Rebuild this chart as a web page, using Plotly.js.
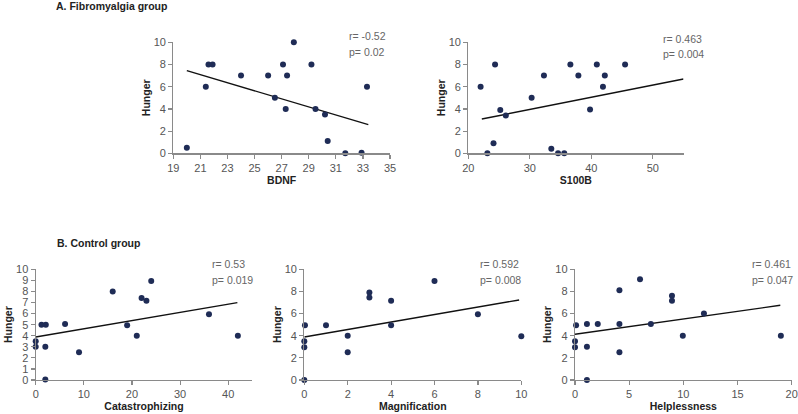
<!DOCTYPE html>
<html><head><meta charset="utf-8">
<script src="https://cdn.plot.ly/plotly-3.0.1.min.js"></script>
<style>html,body{margin:0;padding:0;background:#fff}#chart{width:798px;height:414px}</style>
</head><body><div id="chart"></div>
<script>
// Panel A1: BDNF vs Hunger (Fibromyalgia group)
const bdnfX      = [20.0, 21.4, 21.6, 21.9, 24.0, 26.0, 26.5, 27.1, 27.3, 27.4, 27.9, 29.2, 29.5, 30.2, 30.4, 31.7, 32.9, 33.3];
const bdnfHunger = [0.5, 6, 8, 8, 7, 7, 5, 8, 4, 7, 10, 8, 4, 3.5, 1.1, 0, 0.05, 6];
const bdnfFitX = [20.0, 33.4];
const bdnfFitY = [7.45, 2.58];

// Panel A2: S100B vs Hunger
const s100bX      = [22.0, 23.1, 24.35, 24.1, 25.2, 26.1, 30.3, 32.3, 33.5, 34.6, 35.6, 36.6, 37.9, 39.8, 40.9, 41.9, 42.2, 45.5];
const s100bHunger = [6, 0, 8, 0.9, 3.9, 3.4, 5, 7, 0.4, 0, 0, 8, 7, 3.95, 8, 6, 7, 8];
const s100bFitX = [22.2, 55];
const s100bFitY = [3.09, 6.69];

// Panel B1: Catastrophizing vs Hunger (Control group)
const catX      = [0, 0, 1.2, 2.1, 2, 2, 6.1, 9, 16, 19, 21, 22, 23, 24, 36, 42];
const catHunger = [3.5, 3, 5, 5, 3, 0.05, 5.05, 2.5, 8, 4.95, 4, 7.4, 7.15, 8.95, 5.95, 4];
const catFitX = [0, 41.9];
const catFitY = [3.89, 6.99];

// Panel B2: Magnification vs Hunger
const magX      = [0.03, 0, 0, 0, 1, 2, 2, 3, 3, 4, 4, 6, 8, 10];
const magHunger = [4.95, 3.5, 2.95, 0, 4.95, 4, 2.5, 7.9, 7.45, 7.15, 4.95, 8.95, 5.95, 3.95];
const magFitX = [0, 9.9];
const magFitY = [3.89, 7.23];

// Panel B3: Helplessness vs Hunger
const helpX      = [0.1, 0, 0, 1.1, 1.1, 1.1, 2.1, 4.1, 4.1, 4.1, 6.0, 7.0, 8.95, 8.95, 9.95, 11.9, 19.0];
const helpHunger = [4.95, 3.5, 2.95, 5.05, 3, 0, 5.05, 8.1, 5.05, 2.5, 9.1, 5.05, 7.6, 7.15, 4, 6, 4];
const helpFitX = [0, 18.95];
const helpFitY = [4.13, 6.75];

const xTitles = ['BDNF', 'S100B', 'Catastrophizing', 'Magnification', 'Helplessness'];
const yTitle = 'Hunger';
const rLabels = ['r= -0.52', 'r= 0.463', 'r= 0.53', 'r= 0.592', 'r= 0.461'];
const pLabels = ['p= 0.02', 'p= 0.004', 'p= 0.019', 'p= 0.008', 'p= 0.047'];
const sectionTitles = ['A. Fibromyalgia group', 'B. Control group'];

const W = 798, H = 414;
const dotColor = '#1f2c56';
const axisColor = '#8a8a8a';
const fam = '"Liberation Sans Narrow", "Liberation Sans", Arial, sans-serif';
const tickFont = {family: fam, size: 11, color: '#555'};
const boldFont = {family: fam, size: 10.5, color: '#222', weight: 'bold'};
const noteFont = {family: fam, size: 10.5, color: '#666'};

const panels = [
  {x: bdnfX, y: bdnfHunger, fx: bdnfFitX, fy: bdnfFitY, px: [173.3, 390], py: [42.3, 153.3], xr: [19, 35], xt0: 19, xd: 2, yd: 2, note: [347, 36, 51.7]},
  {x: s100bX, y: s100bHunger, fx: s100bFitX, fy: s100bFitY, px: [468.3, 683.5], py: [42.3, 153.3], xr: [20, 55], xt0: 20, xd: 10, yd: 2, note: [660.7, 39, 54.3]},
  {x: catX, y: catHunger, fx: catFitX, fy: catFitY, px: [35.7, 252.3], py: [269.3, 380], xr: [0, 45], xt0: 0, xd: 10, yd: 1, note: [210, 264.3, 280]},
  {x: magX, y: magHunger, fx: magFitX, fy: magFitY, px: [304.3, 521.3], py: [269.3, 380], xr: [0, 10], xt0: 0, xd: 2, yd: 2, note: [478.3, 264.3, 280]},
  {x: helpX, y: helpHunger, fx: helpFitX, fy: helpFitY, px: [575, 791.7], py: [269.3, 380], xr: [0, 20], xt0: 0, xd: 5, yd: 2, note: [750, 264.3, 280]}
];

const traces = [];
const layout = {
  width: W, height: H,
  margin: {l: 0, r: 0, t: 0, b: 0},
  paper_bgcolor: '#fff', plot_bgcolor: 'rgba(0,0,0,0)',
  showlegend: false,
  annotations: []
};

panels.forEach((p, i) => {
  const n = i === 0 ? '' : String(i + 1);
  const xa = 'x' + n, ya = 'y' + n;
  traces.push({type: 'scatter', mode: 'lines', x: p.fx, y: p.fy, xaxis: xa, yaxis: ya,
    line: {color: '#111', width: 1.4}, hoverinfo: 'skip', cliponaxis: false});
  traces.push({type: 'scatter', mode: 'markers', x: p.x, y: p.y, xaxis: xa, yaxis: ya,
    marker: {color: dotColor, size: 6}, cliponaxis: false});
  layout['xaxis' + n] = {
    domain: [p.px[0] / W, p.px[1] / W], range: p.xr, anchor: ya,
    tickmode: 'linear', tick0: p.xt0, dtick: p.xd,
    showgrid: false, zeroline: false, showline: true, linecolor: axisColor, linewidth: 1.2,
    ticks: 'outside', ticklen: 4, tickcolor: axisColor, tickwidth: 1.2,
    tickfont: tickFont, fixedrange: true,
    title: {text: xTitles[i], font: boldFont, standoff: 0}
  };
  layout['yaxis' + n] = {
    domain: [1 - p.py[1] / H, 1 - p.py[0] / H], range: [0, 10], anchor: xa,
    tickmode: 'linear', tick0: 0, dtick: p.yd,
    showgrid: false, zeroline: false, showline: true, linecolor: axisColor, linewidth: 1.2,
    ticks: 'outside', ticklen: 4, tickcolor: axisColor, tickwidth: 1.2,
    tickfont: tickFont, fixedrange: true,
    title: {text: yTitle, font: boldFont, standoff: 1}
  };
  layout.annotations.push({xref: 'paper', yref: 'paper', x: p.note[0] / W, y: 1 - p.note[1] / H,
    xanchor: 'left', yanchor: 'middle', text: rLabels[i], showarrow: false, font: noteFont});
  layout.annotations.push({xref: 'paper', yref: 'paper', x: p.note[0] / W, y: 1 - p.note[2] / H,
    xanchor: 'left', yanchor: 'middle', text: pLabels[i], showarrow: false, font: noteFont});
});

layout.annotations.push({xref: 'paper', yref: 'paper', x: 54 / W, y: 1 - 6 / H, xanchor: 'left', yanchor: 'middle',
  text: sectionTitles[0], showarrow: false, font: boldFont});
layout.annotations.push({xref: 'paper', yref: 'paper', x: 55 / W, y: 1 - 243.3 / H, xanchor: 'left', yanchor: 'middle',
  text: sectionTitles[1], showarrow: false, font: boldFont});

Plotly.newPlot('chart', traces, layout, {displayModeBar: false, staticPlot: true});
</script>
</body></html>
